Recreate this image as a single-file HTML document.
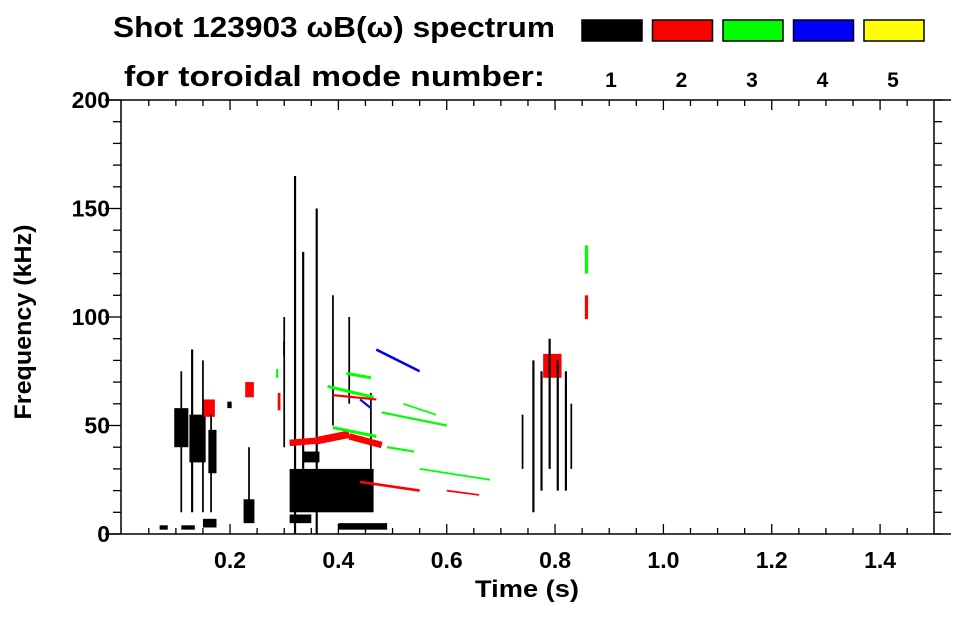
<!DOCTYPE html>
<html><head><meta charset="utf-8"><style>
body{margin:0;background:#fff}
svg text{font-family:"Liberation Sans",sans-serif;font-weight:bold;fill:#000}
</style></head><body>
<svg id="chart" width="963" height="615" xmlns="http://www.w3.org/2000/svg">
<g>
<text x="113" y="37" font-size="29" textLength="442" lengthAdjust="spacingAndGlyphs">Shot 123903 ωB(ω) spectrum</text>
<text x="124" y="86" font-size="29" textLength="421" lengthAdjust="spacingAndGlyphs">for toroidal mode number:</text>
</g>
<g id="legend"></g>
<g id="marks"></g>
<g id="axes"></g>
<text x="527" y="597" font-size="24" textLength="104" lengthAdjust="spacingAndGlyphs" text-anchor="middle">Time (s)</text>
<text transform="translate(31,322) rotate(-90)" font-size="24" textLength="195" lengthAdjust="spacingAndGlyphs" text-anchor="middle">Frequency (kHz)</text>
</svg>
<script>
const modeColors=["#000","#f00","#0f0","#00f","#ff0"];
const modeLabels=["1","2","3","4","5"];
const xTicks=[0.2,0.4,0.6,0.8,1.0,1.2,1.4];
const xTickLabels=["0.2","0.4","0.6","0.8","1.0","1.2","1.4"];
const yTicks=[0,50,100,150,200];
const yTickLabels=["0","50","100","150","200"];
// blobs: time start/end (s), freq start/end (kHz), mode
const blobT0=[0.097,0.125,0.16,0.07,0.11,0.15,0.225,0.195,0.31,0.31,0.40,0.335,0.15,0.228,0.778,0.855,0.288,0.855,0.285,0.298];
const blobT1=[0.123,0.155,0.175,0.085,0.135,0.175,0.245,0.203,0.465,0.35,0.49,0.365,0.172,0.244,0.812,0.861,0.293,0.861,0.289,0.301];
const blobF0=[40,33,28,2,2,3,5,58,10,5,2,33,54,63,72,99,57,120,72,82];
const blobF1=[58,55,48,4,4,7,16,61,30,9,5,38,62,70,83,110,65,133,76,89];
const blobMode=[1,1,1,1,1,1,1,1,1,1,1,1,2,2,2,2,2,3,3,4];
// streaks: start (t,f), end (t,f), width (kHz), mode
const segT0=[0.32,0.36,0.335,0.30,0.39,0.42,0.46,0.13,0.11,0.15,0.165,0.235,0.76,0.775,0.79,0.805,0.82,0.83,0.74,
 0.31,0.36,0.42,0.44,0.38,0.39,0.415,0.39,0.49,0.48,0.55,0.47,0.44,0.60,0.52];
const segF0=[0,0,30,40,50,60,30,10,10,10,10,10,10,20,30,20,20,30,30,
 42,43,45,24,68,49,74,64,40,56,30,85,62,20,60];
const segT1=[0.32,0.36,0.335,0.30,0.39,0.42,0.46,0.13,0.11,0.15,0.165,0.235,0.76,0.775,0.79,0.805,0.82,0.83,0.74,
 0.36,0.42,0.48,0.55,0.465,0.47,0.46,0.47,0.54,0.60,0.68,0.55,0.46,0.66,0.58];
const segF1=[165,150,130,100,110,100,65,85,75,80,55,40,80,75,90,80,75,60,55,
 43,46,41,20,63,45,72,62,38,50,25,75,58,18,55];
const segW=[1,1,1,0.8,0.8,0.8,0.8,1,0.8,0.8,0.8,0.8,1,1,1,1,1,0.8,0.8,
 3,3.5,3,1.2,1.4,1.4,1.4,1,1,1,0.8,1.2,1,0.8,0.8];
const segMode=[1,1,1,1,1,1,1,1,1,1,1,1,1,1,1,1,1,1,1,
 2,2,2,2,3,3,3,2,3,3,3,4,4,2,3];

const NS="http://www.w3.org/2000/svg";
const X0=105,X1=934,Y0=534,Y1=100;
const xS=t=>121.7+t*541.7;
const yS=f=>534-f*2.17;
function mk(tag,attrs,parent){const e=document.createElementNS(NS,tag);for(const k in attrs)e.setAttribute(k,attrs[k]);parent.appendChild(e);return e;}
const marks=document.getElementById('marks');
blobT0.forEach((t0,i)=>{
 const x=xS(t0),w=xS(blobT1[i])-x,y=yS(blobF1[i]),h=yS(blobF0[i])-y;
 const r=mk('rect',{x:x,y:y,width:w,height:h,fill:modeColors[blobMode[i]-1]},marks);
 
 
});
segT0.forEach((t0,i)=>{
 const l=mk('line',{x1:xS(t0),y1:yS(segF0[i]),x2:xS(segT1[i]),y2:yS(segF1[i]),stroke:modeColors[segMode[i]-1],'stroke-width':Math.max(1.3,segW[i]*2.17)},marks);
 
 
});
const ax=document.getElementById('axes');
[[X0,Y0,951,Y0],[X0,Y1,951,Y1],[121,Y1,121,Y0],[X1,Y1,X1,Y0]].forEach(c=>{
 const l=mk('line',{x1:c[0],y1:c[1],x2:c[2],y2:c[3],stroke:'#000','stroke-width':1.5},ax);
 
 
});
for(let k=1;k<=29;k++){const t=k*0.05,x=xS(t);if(x>X1)break;const major=k%4==0;const len=major?10:6;
 mk('line',{x1:x,y1:Y0,x2:x,y2:Y0-len,stroke:'#000','stroke-width':1.3},ax);
 mk('line',{x1:x,y1:Y1,x2:x,y2:Y1+len,stroke:'#000','stroke-width':1.3},ax);}
for(let f=0;f<=200;f+=10){const y=yS(f);const major=f%50==0;
 mk('line',{x1:121,y1:y,x2:major?X0:113,y2:y,stroke:'#000','stroke-width':1.3},ax);
 mk('line',{x1:X1,y1:y,x2:X1+8,y2:y,stroke:'#000','stroke-width':1.3},ax);}
xTicks.forEach((t,i)=>{const e=mk('text',{x:xS(t),y:568,'font-size':23,'text-anchor':'middle'},ax);e.textContent=xTickLabels[i];
 
 });
yTicks.forEach((f,i)=>{const e=mk('text',{x:110,y:yS(f)+8,'font-size':23,'text-anchor':'end'},ax);e.textContent=yTickLabels[i];
 
 });
const lg=document.getElementById('legend');
modeColors.forEach((c,i)=>{const x=582+i*70.5;
 const r=mk('rect',{x:x,y:20,width:60,height:21,fill:c,stroke:'#000','stroke-width':1.5},lg);
 
 
 const t=mk('text',{x:x+29,y:87,'font-size':21,'text-anchor':'middle'},lg);t.textContent=modeLabels[i];
 
 });
</script>
</body></html>
